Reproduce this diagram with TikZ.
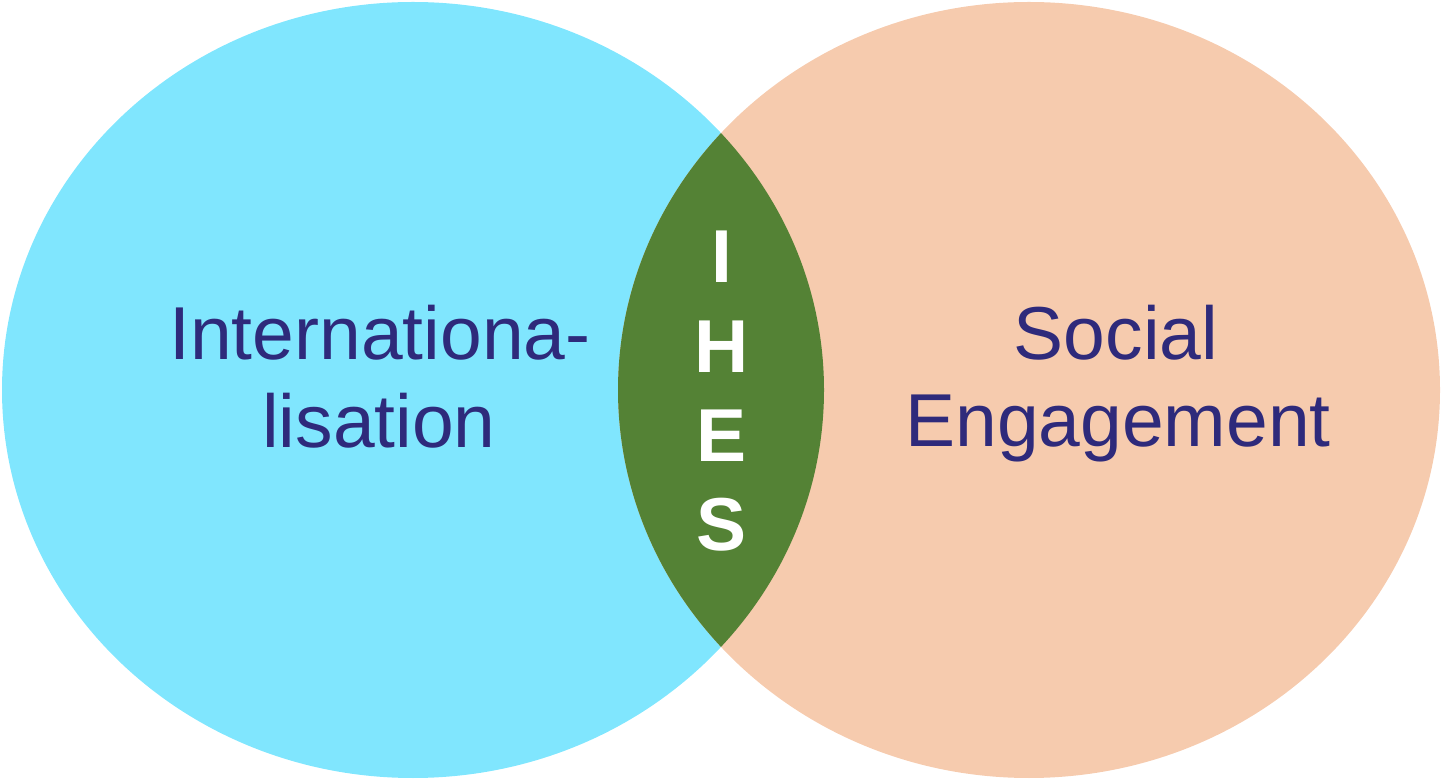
\documentclass[tikz,border=0pt]{standalone}
\usepackage{fontspec}
\setmainfont{Liberation Sans}
\definecolor{cyanfill}{HTML}{80E6FE}
\definecolor{peachfill}{HTML}{F6CBAE}
\definecolor{lensfill}{HTML}{548235}
\definecolor{navytext}{HTML}{2E2A7B}
\begin{document}
\begin{tikzpicture}[x=1pt,y=1pt,
  bigtext/.style={text=navytext,font=\fontsize{75}{75}\selectfont,anchor=base,inner sep=0pt},
  lenstext/.style={text=white,font=\fontsize{75}{75}\selectfont\bfseries,anchor=base,inner sep=0pt}]
\useasboundingbox (0,0) rectangle (1442,779);
\fill[cyanfill] (413,389) ellipse [x radius=411, y radius=388];
\fill[peachfill] (1029,389) ellipse [x radius=411, y radius=388];
\begin{scope}
  \clip (413,389) ellipse [x radius=411, y radius=388];
  \fill[lensfill] (1029,389) ellipse [x radius=411, y radius=388];
\end{scope}
\node[bigtext] (int1) at (380,419) {Internationa-};
\node[bigtext] (int2) at (379,331) {lisation};
\node[bigtext] (soc1) at (1116,419) {Social};
\node[bigtext] (soc2) at (1118,332) {Engagement};
\node[lenstext] (lI) at (722,496) {I};
\node[lenstext] (lH) at (722,406) {H};
\node[lenstext] (lE) at (722,317) {E};
\node[lenstext] (lS) at (722,228) {S};
\end{tikzpicture}
\end{document}
